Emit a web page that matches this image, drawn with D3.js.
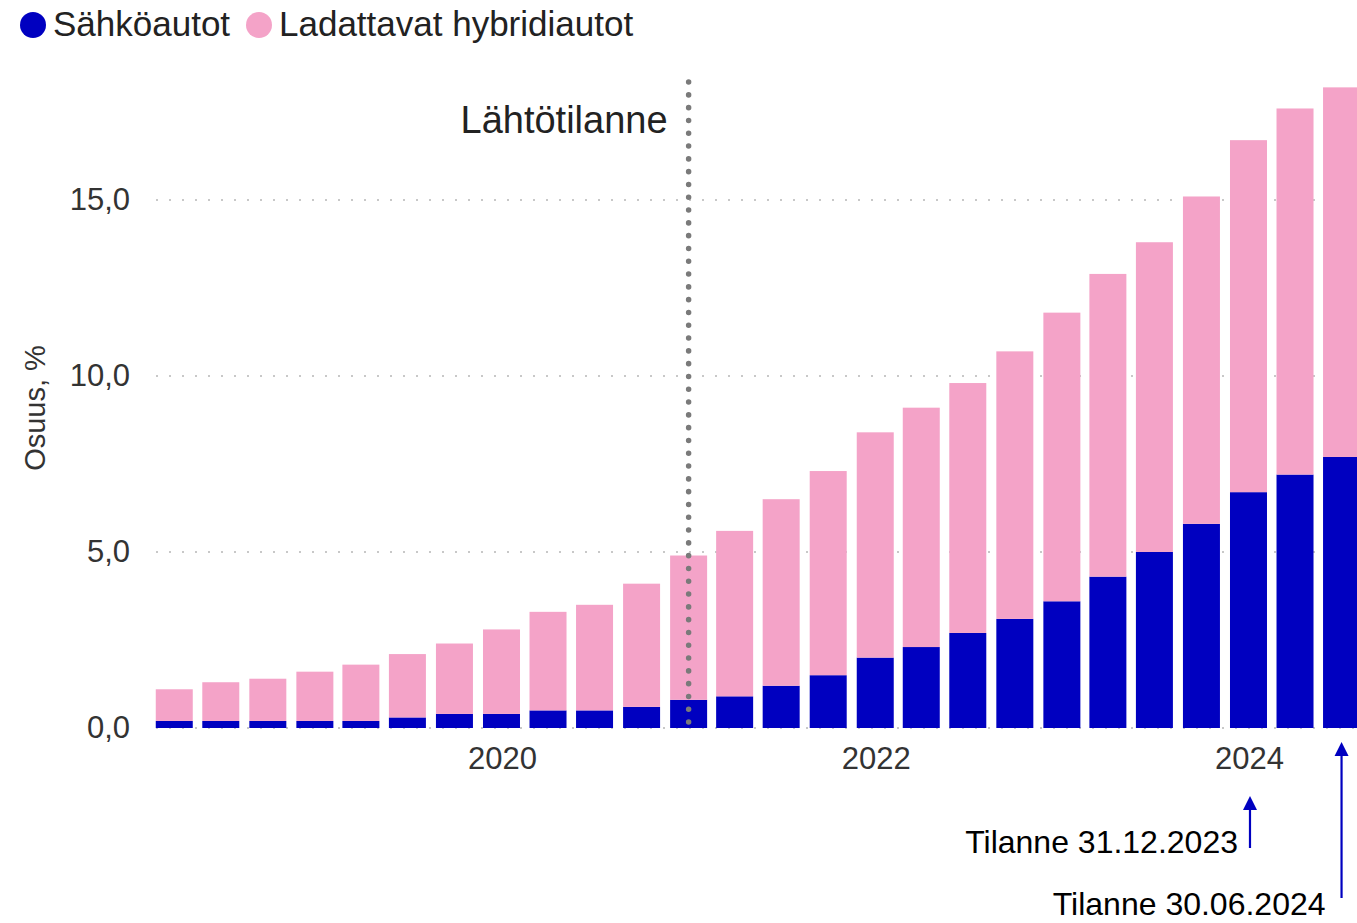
<!DOCTYPE html>
<html>
<head>
<meta charset="utf-8">
<script src="https://cdn.jsdelivr.net/npm/d3@7"></script>
<style>
  html, body { margin: 0; padding: 0; background: #fff; }
  svg { display: block; font-family: "Liberation Sans", Arial, sans-serif; }
</style>
</head>
<body>
<svg id="chart" width="1357" height="923"></svg>
<script>
// Quarter-end observation dates
const dates = [
  "2018-03-31","2018-06-30","2018-09-30","2018-12-31",
  "2019-03-31","2019-06-30","2019-09-30","2019-12-31",
  "2020-03-31","2020-06-30","2020-09-30","2020-12-31",
  "2021-03-31","2021-06-30","2021-09-30","2021-12-31",
  "2022-03-31","2022-06-30","2022-09-30","2022-12-31",
  "2023-03-31","2023-06-30","2023-09-30","2023-12-31",
  "2024-03-31","2024-06-30"
];
// Share of fleet, %
const sahkoautot = [0.2,0.2,0.2,0.2,0.2,0.3,0.4,0.4,0.5,0.5,0.6,0.8,0.9,1.2,1.5,2.0,2.3,2.7,3.1,3.6,4.3,5.0,5.8,6.7,7.2,7.7];
const hybridit   = [0.9,1.1,1.2,1.4,1.6,1.8,2.0,2.4,2.8,3.0,3.5,4.1,4.7,5.3,5.8,6.4,6.8,7.1,7.6,8.2,8.6,8.8,9.3,10.0,10.4,10.5];
const yTicks = [0, 5, 10, 15];
const xTickYears = [2020, 2022, 2024];
const seriesNames = ["Sähköautot", "Ladattavat hybridiautot"];
const colors = ["#0000c0", "#f4a3c8"];
const baselineDate = "2020-12-31";
const notes = [
  { date: "2023-12-31", label: "Tilanne 31.12.2023" },
  { date: "2024-06-30", label: "Tilanne 30.06.2024" }
];

const parse = d3.timeParse("%Y-%m-%d");
const rows = dates.map((d, i) => ({ date: parse(d), sahko: sahkoautot[i], hybridi: hybridit[i] }));

const svg = d3.select("#chart");
const barW = 37;

const x = d3.scaleTime()
  .domain([new Date(2020, 0, 1), new Date(2024, 0, 1)])
  .range([502, 1249]);
const y = d3.scaleLinear().domain([0, 15]).range([728, 200]);

// Gridlines
svg.append("g").selectAll("line").data(yTicks).join("line")
  .attr("x1", 156).attr("x2", 1357)
  .attr("y1", d => y(d)).attr("y2", d => y(d))
  .attr("stroke", "#c8c8c8").attr("stroke-width", 2)
  .attr("stroke-dasharray", "2,11");

// Y axis labels
const yAxis = d3.axisLeft(y).tickValues(yTicks).tickSize(0).tickPadding(0)
  .tickFormat(d => d3.format(".1f")(d).replace(".", ","));
svg.append("g").attr("transform", "translate(130,0)").call(yAxis)
  .call(g => g.select(".domain").remove())
  .selectAll("text").attr("font-size", 31).attr("fill", "#333")
  .attr("font-family", "Liberation Sans, Arial, sans-serif");

svg.append("text")
  .attr("transform", "translate(45,408) rotate(-90)")
  .attr("text-anchor", "middle")
  .attr("font-size", 29).attr("fill", "#333")
  .text("Osuus, %");

// Stacked bars
const stack = d3.stack().keys(["sahko", "hybridi"]);
const layers = stack(rows);
svg.append("g").selectAll("g").data(layers).join("g")
  .attr("fill", (d, i) => colors[i])
  .selectAll("rect").data(d => d).join("rect")
  .attr("x", d => x(d.data.date) - barW / 2)
  .attr("width", barW)
  .attr("y", d => y(d[1]))
  .attr("height", d => y(d[0]) - y(d[1]));

// X axis labels
const xAxis = d3.axisBottom(x)
  .tickValues(xTickYears.map(yr => new Date(yr, 0, 1)))
  .tickSize(0).tickPadding(0)
  .tickFormat(d3.timeFormat("%Y"));
svg.append("g").attr("transform", "translate(0,747)").call(xAxis)
  .call(g => g.select(".domain").remove())
  .selectAll("text").attr("font-size", 31).attr("fill", "#333")
  .attr("font-family", "Liberation Sans, Arial, sans-serif");

// Baseline marker
const bx = x(parse(baselineDate));
svg.append("line")
  .attr("x1", bx).attr("x2", bx).attr("y1", 82).attr("y2", 730)
  .attr("stroke", "#7a7a7a").attr("stroke-width", 5.5)
  .attr("stroke-linecap", "round").attr("stroke-dasharray", "0.1,12.7");
svg.append("text")
  .attr("x", bx - 21).attr("y", 133)
  .attr("text-anchor", "end").attr("font-size", 38).attr("fill", "#222")
  .text("Lähtötilanne");

// Legend
const legend = svg.append("g");
const legX = [33, 259];
seriesNames.forEach((name, i) => {
  legend.append("circle").attr("cx", legX[i]).attr("cy", 25).attr("r", 13).attr("fill", colors[i]);
  legend.append("text").attr("x", legX[i] + 20).attr("y", 36)
    .attr("font-size", 35).attr("fill", "#222").text(name);
});

// Arrows for reporting dates
const noteGeom = [
  { y1: 848, y2: 796, ty: 853, dx: -12 },
  { y1: 898, y2: 742, ty: 915, dx: -16 }
];
notes.forEach((n, i) => {
  const nx = x(parse(n.date)) + (i === 0 ? 1.5 : 0);
  const g = noteGeom[i];
  svg.append("line")
    .attr("x1", nx).attr("x2", nx).attr("y1", g.y1).attr("y2", g.y2 + 8)
    .attr("stroke", "#0000c0").attr("stroke-width", 2.2);
  svg.append("path")
    .attr("d", `M${nx - 7},${g.y2 + 14} L${nx},${g.y2} L${nx + 7},${g.y2 + 14} Z`)
    .attr("fill", "#0000c0");
  svg.append("text")
    .attr("x", nx + g.dx).attr("y", g.ty)
    .attr("text-anchor", "end").attr("font-size", 32).attr("fill", "#000")
    .text(n.label);
});
</script>
</body>
</html>
